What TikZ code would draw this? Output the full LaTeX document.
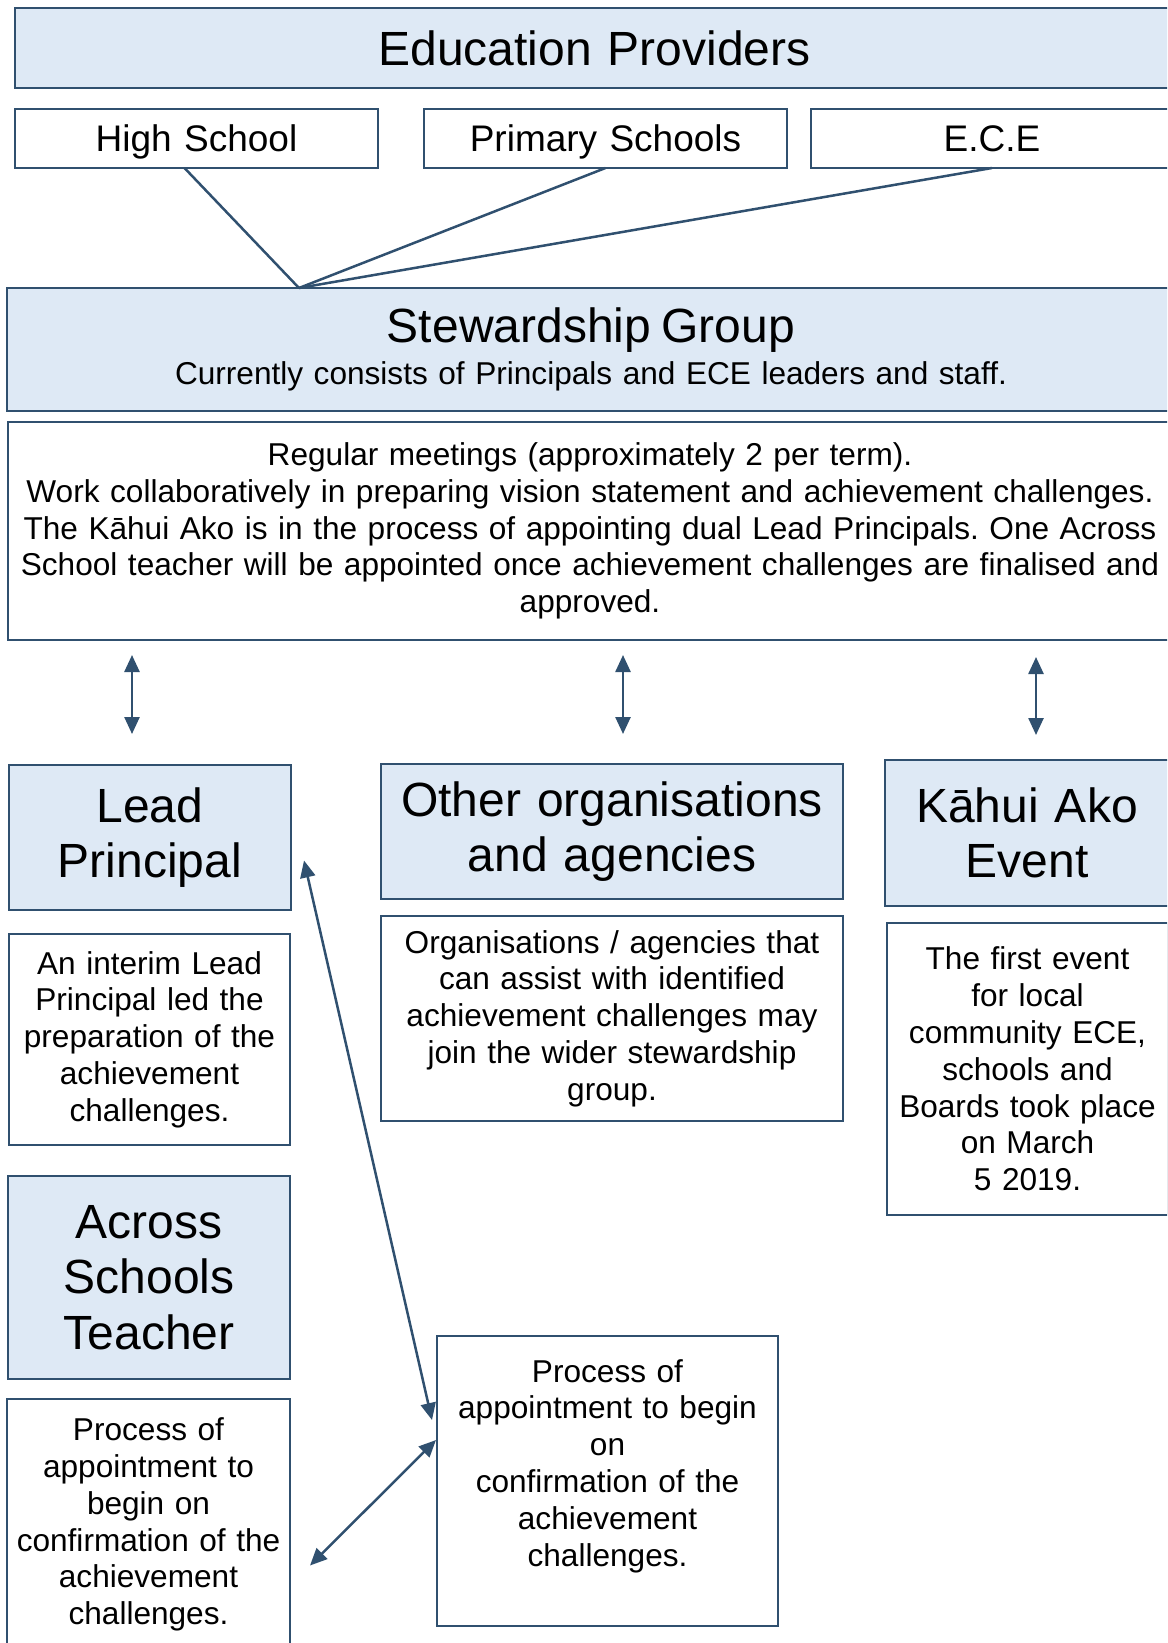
\documentclass[tikz,border=0pt]{standalone}
\usepackage{fontspec}
\setmainfont{Liberation Sans}
\usetikzlibrary{positioning,calc,arrows.meta}
\definecolor{edge}{HTML}{30506F}
\definecolor{paleblue}{HTML}{DEE9F5}
\frenchspacing

\begin{document}
\begin{tikzpicture}[
    box/.style={draw=edge, line width=2.5pt, fill=white, align=center, inner sep=0pt, outer sep=0pt},
    shaded/.style={box, fill=paleblue},
    big/.style={font=\fontsize{48}{55.5}\selectfont},
    mid/.style={font=\fontsize{37}{42}\selectfont, text depth=0pt},
    body/.style={font=\fontsize{31.6}{36.8}\selectfont},
    link/.style={draw=edge, line width=2.5pt},
    dbl/.style={link, {Triangle[length=17pt,width=15pt]}-{Triangle[length=17pt,width=15pt]}}
  ]
  \useasboundingbox (0,0) rectangle (1167pt,-1643pt);
  \clip (0,0) rectangle (1167pt,-1643pt);

  %% Providers and the three school types
  \node[shaded, big, anchor=north west, text width=1159pt, minimum height=80pt] (providers) at (15pt,-8pt) {Education Providers};
  \node[box, mid, below=21pt of providers.south west, anchor=north west, text width=363pt, minimum height=59pt] (hs) {High School};
  \node[box, mid, right=46pt of hs, text width=363pt, minimum height=59pt] (ps) {Primary Schools};
  \node[box, mid, right=24pt of ps, text width=362pt, minimum height=59pt] (ece) {E.C.E};

  %% Stewardship group and its remit
  \node[shaded, font=\fontsize{31.6}{41.5}\selectfont, below=120pt of hs.south west, anchor=north west, xshift=-8pt, text width=1168pt, minimum height=123pt] (steward)
    {{\fontsize{48}{55.5}\selectfont Stewardship Group}\\Currently consists of Principals and ECE leaders and staff.};
  \node[box, body, below=11pt of steward.south west, anchor=north west, xshift=1pt, text width=1164pt, minimum height=218pt] (meetings)
    {Regular meetings (approximately 2 per term).\\
     Work collaboratively in preparing vision statement and achievement challenges.\\
     The Kāhui Ako is in the process of appointing dual Lead Principals. One Across\\
     School teacher will be appointed once achievement challenges are finalised and\\
     approved.};

  %% Roles row
  \node[shaded, big, below=125pt of meetings.south west, anchor=north west, xshift=1pt, text width=282pt, minimum height=145pt] (lead) {Lead\\Principal};
  \node[shaded, big, right=90pt of lead.north east, anchor=north west, yshift=1pt, text width=462pt, minimum height=135pt] (orgs) {Other organisations\\and agencies};
  \node[shaded, big, right=42pt of orgs.north east, anchor=north west, yshift=4pt, text width=284pt, minimum height=146pt] (kahui) {Kāhui Ako\\Event};

  \node[box, body, below=24pt of lead.south west, anchor=north west, text width=281pt, minimum height=211pt] (leaddesc)
    {An interim Lead\\Principal led the\\preparation of the\\achievement\\challenges.};
  \node[box, body, below=17pt of orgs.south west, anchor=north west, text width=462pt, minimum height=205pt] (orgsdesc)
    {Organisations / agencies that\\can assist with identified\\achievement challenges may\\join the wider stewardship\\group.};
  \node[box, body, below=17pt of kahui.south west, anchor=north west, xshift=2pt, text width=281pt, minimum height=292pt] (kahuidesc)
    {The first event\\for local\\community ECE,\\schools and\\Boards took place\\on March\\5 2019.};

  %% Across schools teacher
  \node[shaded, big, below=31pt of leaddesc.south west, anchor=north west, xshift=-1pt, text width=282pt, minimum height=203pt] (across) {Across\\Schools\\Teacher};
  \node[box, body, below=20pt of across.south west, anchor=north west, xshift=-1pt, text width=283pt, minimum height=251pt] (procleft)
    {Process of\\appointment to\\begin on\\confirmation of the\\achievement\\challenges.};
  \node[box, body, right=147pt of across.south east, anchor=north west, yshift=43pt, text width=341pt, minimum height=290pt] (procmid)
    {Process of\\appointment to begin\\on\\confirmation of the\\achievement\\challenges.\\ \mbox{}};

  %% Connectors
  \coordinate (join) at ($(steward.north west)!0.25!(steward.north east)$);
  \draw[link] ([xshift=-12pt]hs.south) -- (join);
  \draw[link] (ps.south) -- (join);
  \draw[link] (ece.south) -- (join);

  \draw[dbl] ([xshift=-18pt, yshift=-15pt]meetings.south -| lead.north) -- ([xshift=-18pt, yshift=31pt]lead.north);
  \draw[dbl] ([xshift=11pt, yshift=-15pt]meetings.south -| orgs.north) -- ([xshift=11pt, yshift=30pt]orgs.north);
  \draw[dbl] ([xshift=9pt, yshift=-17pt]meetings.south -| kahui.north) -- ([xshift=9pt, yshift=25pt]kahui.north);

  \draw[dbl] ([xshift=13pt, yshift=-23pt]lead.east) -- ([xshift=-5pt, yshift=61pt]procmid.west);
  \draw[dbl] ([xshift=-1pt, yshift=41pt]procmid.west) -- ([xshift=20pt, yshift=-41pt]procleft.east);
\end{tikzpicture}
\end{document}
